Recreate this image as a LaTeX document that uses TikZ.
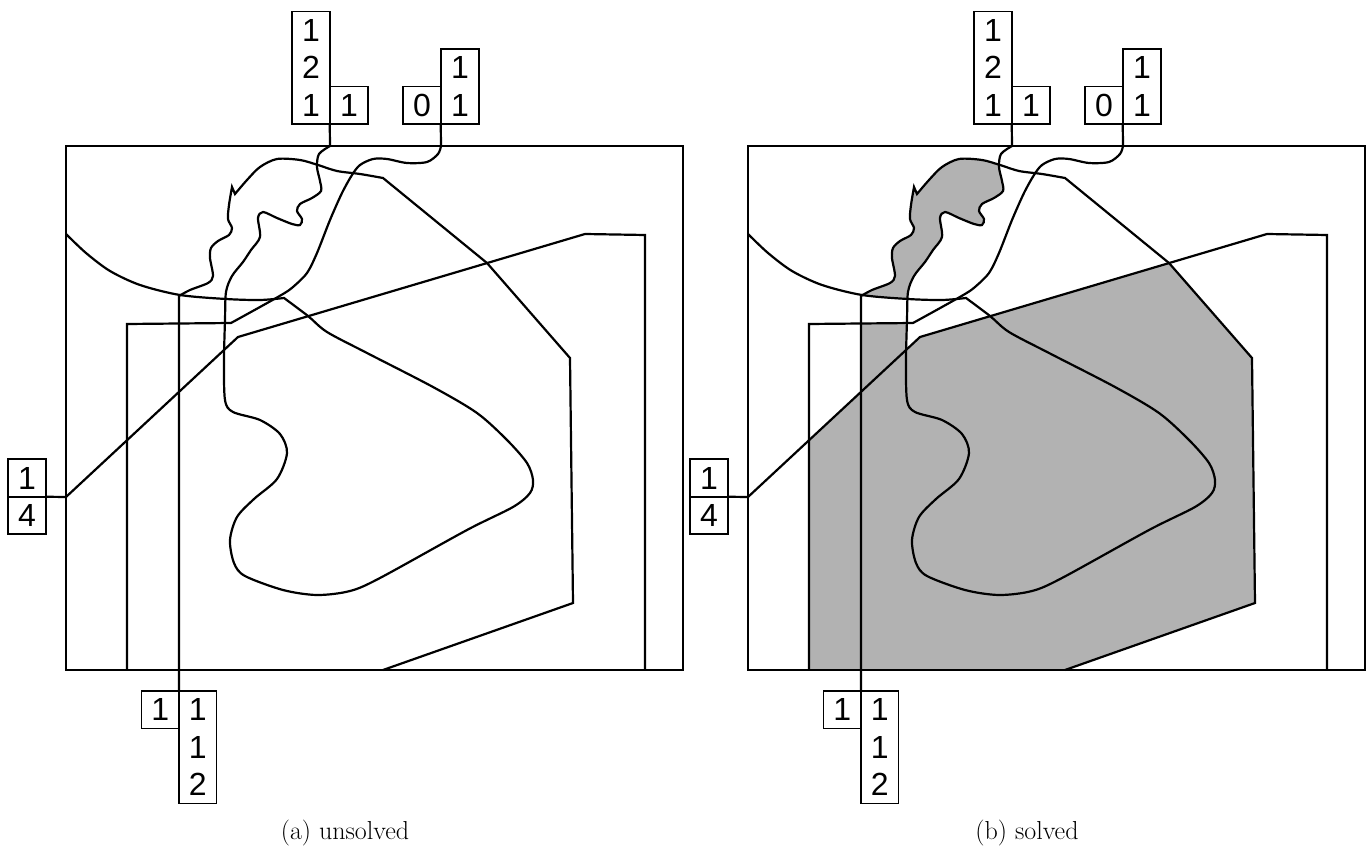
\documentclass[tikz,border=0pt]{standalone}
\usepackage{fontspec}
\newfontfamily\cluefont{Liberation Sans}
\usepackage{tikz}

\begin{document}
\begin{tikzpicture}[
  x=1pt, y=-1pt,
  cell/.style={rectangle, draw=black, line width=1.9pt, minimum width=37.5pt, minimum height=37.5pt, inner sep=0pt, outer sep=0pt, align=center, font=\cluefont\fontsize{32}{37.5}\selectfont},
  col2/.style={cell, minimum height=75pt},
  col3/.style={cell, minimum height=112.5pt},
  frame/.style={draw=black, line width=2.2pt},
  curve/.style={draw=black, line width=2.2pt},
  shade/.style={fill=black!30},
  caption/.style={font=\fontsize{26}{30}\selectfont}
]
  \useasboundingbox (0,0) rectangle (1369,853);

  % shaded cells of the solved panel
  \begin{scope}[shift={(682,0)}]
    \fill[shade] (127,670) -- (127,440) -- (180,391) -- (180,324) -- (225,324) -- (225,349) -- (238,337)
      -- (487,263) -- (570,358) -- (573,603) -- (383,670) -- cycle;
    \fill[shade] plot[smooth] coordinates {(180,296) (190,290) (208,283) (213,276) (210,258) (211,248) (218,241) (229,235) (232,228) (228,219) (229,205) (232,187)}
      -- plot[smooth] coordinates {(235,194) (247,180) (260,167) (277,159) (300,160) (317,165)}
      -- plot[smooth] coordinates {(317,167) (320,181) (321,191) (312,198) (300,204) (297,211) (302,219) (300,225) (292,224) (277,218) (263,212) (258,218) (260,237) (251,250) (243,262) (232,276) (226,292) (225,299)}
      -- (205,298) -- cycle;
  \end{scope}

  \foreach \dx/\p/\cap in {0/a/{(a) unsolved}, 682/b/{(b) solved}} {
  \begin{scope}[shift={(\dx,0)}]
    \draw[frame] (66,146) rectangle (683,670);

    % clues
    \node[col3] (tlcol\p) at (311,67.75) {1\\2\\1};
    \node[cell] (tlone\p) at (349,105.25) {1};

    \node[cell] (trzero\p) at (422,105.25) {0};
    \node[col2] (trcol\p) at (460,86.5) {1\\1};

    \node[cell] (lone\p) at (27,478) {1};
    \node[cell] (lfour\p) at (27,515.5) {4};

    \node[cell] (bone\p) at (160.25,709.75) {1};
    \node[col3] (bcol\p) at (197.75,747.25) {1\\1\\2};

    % free ends on the frame
    \coordinate (e1\p) at (127,670);
    \coordinate (e2\p) at (66,234);
    \coordinate (e3\p) at (383,670);
    \coordinate (e4\p) at (645,670);

    % lines
    \draw[curve] (trzero\p.south east) -- (441,146) -- plot[smooth] coordinates {(441,146) (438,154) (427,162) (407,163) (387,159) (373,159) (360,165) (352,175) (342,193) (330,220) (317,253) (307,273) (293,287) (283,294) (260,307) (231,323)}
      -- (127,324) -- (e1\p);
    \draw[curve] (tlcol\p.south east) -- (330,146) -- plot[smooth] coordinates {(330,146) (319,154) (317,167) (320,181) (321,191) (312,198) (300,204) (297,211) (302,219) (300,225) (292,224) (277,218) (263,212) (258,218) (260,237) (251,250) (243,262) (232,276) (226,292) (225,320) (224,360) (225,400) (233,412) (260,420) (280,434) (287,453) (277,479) (254,499) (237,517) (230,540) (234,563) (245,576) (283,590) (317,595) (350,591) (380,578) (467,530) (513,507) (530,493) (533,480) (527,463) (507,440) (477,413) (433,387) (367,353) (327,332) (308,316) (284,298)}
      -- plot[smooth] coordinates {(284,298) (260,300) (226,299) (180,295) (140,285) (110,271) (86,253) (66,234)} -- (e2\p);
    \draw[curve] (bone\p.north east) -- (179,296) -- plot[smooth] coordinates {(179,296) (190,290) (208,283) (213,276) (210,258) (211,248) (218,241) (229,235) (232,228) (228,219) (229,205) (232,187)}
      -- (235,194) -- plot[smooth] coordinates {(235,194) (247,180) (260,167) (277,159) (300,160) (318,165) (337,171) (360,174) (383,178)}
      -- (487,263) -- (570,358) -- (573,603) -- (e3\p);
    \draw[curve] (lone\p.south east) -- (66,497) -- (238,337) -- (585,234) -- (645,235) -- (e4\p);

    \node[caption] (cap\p) at (345,833) {\cap};
  \end{scope}
  }
\end{tikzpicture}
\end{document}
